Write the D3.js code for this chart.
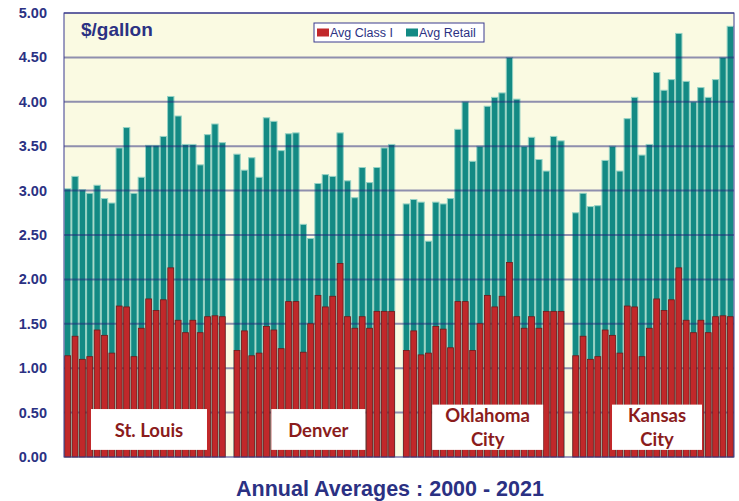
<!DOCTYPE html>
<html>
<head>
<meta charset="utf-8">
<script src="https://cdn.jsdelivr.net/npm/d3@7"></script>
<style>
  body { margin: 0; background: #fff; }
  svg { display: block; }
</style>
</head>
<body>
<svg width="739" height="501"></svg>
<script>
// cities and years
var cities = ["St. Louis", "Denver", "Oklahoma City", "Kansas City"];
var cityLabels = [["St. Louis"], ["Denver"], ["Oklahoma", "City"], ["Kansas", "City"]];
var years = [2000, 2001, 2002, 2003, 2004, 2005, 2006, 2007, 2008, 2009, 2010,
             2011, 2012, 2013, 2014, 2015, 2016, 2017, 2018, 2019, 2020, 2021];

// Avg Class I ($/gallon), one array per city
var classStLouis = [1.14, 1.36, 1.10, 1.13, 1.43, 1.37, 1.17, 1.70, 1.69, 1.13, 1.45,
                    1.78, 1.65, 1.77, 2.13, 1.54, 1.40, 1.54, 1.40, 1.58, 1.59, 1.58];
var classDenver = [1.20, 1.42, 1.14, 1.17, 1.47, 1.43, 1.22, 1.75, 1.75, 1.18, 1.50,
                   1.82, 1.69, 1.81, 2.18, 1.58, 1.45, 1.58, 1.45, 1.64, 1.64, 1.64];
var classOkc = [1.20, 1.42, 1.15, 1.17, 1.47, 1.44, 1.23, 1.75, 1.75, 1.20, 1.50,
                1.82, 1.69, 1.81, 2.19, 1.58, 1.45, 1.58, 1.45, 1.64, 1.64, 1.64];
var classKc = [1.14, 1.36, 1.10, 1.13, 1.43, 1.37, 1.17, 1.70, 1.69, 1.13, 1.45,
               1.78, 1.65, 1.77, 2.13, 1.54, 1.40, 1.54, 1.40, 1.58, 1.59, 1.58];

// Avg Retail ($/gallon)
var retailStLouis = [3.02, 3.16, 3.01, 2.97, 3.06, 2.91, 2.86, 3.48, 3.71, 2.97, 3.15,
                     3.51, 3.51, 3.61, 4.06, 3.84, 3.52, 3.52, 3.29, 3.63, 3.75, 3.54];
var retailDenver = [3.41, 3.23, 3.37, 3.15, 3.82, 3.78, 3.45, 3.64, 3.65, 2.62, 2.46,
                    3.08, 3.18, 3.16, 3.65, 3.11, 2.92, 3.26, 3.09, 3.26, 3.48, 3.52];
var retailOkc = [2.85, 2.90, 2.87, 2.43, 2.87, 2.85, 2.91, 3.69, 4.00, 3.33, 3.50,
                 3.95, 4.05, 4.10, 4.50, 4.03, 3.50, 3.60, 3.35, 3.22, 3.61, 3.56];
var retailKc = [2.75, 2.97, 2.82, 2.83, 3.34, 3.50, 3.22, 3.81, 4.05, 3.40, 3.52,
                4.33, 4.13, 4.25, 4.77, 4.23, 4.00, 4.16, 4.05, 4.25, 4.50, 4.85];

var yTicks = [0, 0.5, 1, 1.5, 2, 2.5, 3, 3.5, 4, 4.5, 5];
var seriesNames = ["Avg Class I", "Avg Retail"];

var classAll = [classStLouis, classDenver, classOkc, classKc];
var retailAll = [retailStLouis, retailDenver, retailOkc, retailKc];

var navy = "#2b3183";

var svg = d3.select("svg"),
    margin = {left: 64, right: 5, top: 13, bottom: 44},
    width = +svg.attr("width") - margin.left - margin.right,
    height = +svg.attr("height") - margin.top - margin.bottom;

// build rows, with an empty slot between cities
var rows = [], slots = [];
cities.forEach(function(c, ci) {
  if (ci > 0) slots.push("gap" + ci);
  years.forEach(function(yr, i) {
    var key = c + "-" + yr;
    slots.push(key);
    rows.push({key: key, city: ci, year: yr, cls: classAll[ci][i], retail: retailAll[ci][i]});
  });
});

var x = d3.scaleBand().domain(slots).range([0, width]).paddingInner(0);
var y = d3.scaleLinear().domain([0, 5]).range([height, 0]);

var g = svg.append("g").attr("transform", "translate(" + margin.left + "," + margin.top + ")");

g.append("rect")
  .attr("width", width).attr("height", height)
  .attr("fill", "#fafae2");

// retail bars (behind)
g.selectAll(".retail")
  .data(rows)
  .enter().append("rect")
    .attr("class", "retail")
    .attr("x", function(d) { return x(d.key) + 0.5; })
    .attr("width", x.bandwidth() - 1)
    .attr("y", function(d) { return y(d.retail); })
    .attr("height", function(d) { return height - y(d.retail); })
    .attr("fill", "#138a84")
    .attr("stroke", "#95d2c4")
    .attr("stroke-width", 1);

// grid lines
g.selectAll(".grid")
  .data(yTicks.slice(1))
  .enter().append("line")
    .attr("class", "grid")
    .attr("x1", 0).attr("x2", width)
    .attr("y1", function(d) { return y(d); })
    .attr("y2", function(d) { return y(d); })
    .attr("stroke", "#23237a")
    .attr("stroke-opacity", 0.5)
    .attr("stroke-width", 2);

// class I bars (front)
g.selectAll(".cls")
  .data(rows)
  .enter().append("rect")
    .attr("class", "cls")
    .attr("x", function(d) { return x(d.key) + 0.75; })
    .attr("width", x.bandwidth() - 1.5)
    .attr("y", function(d) { return y(d.cls); })
    .attr("height", function(d) { return height - y(d.cls); })
    .attr("fill", "#c1282a")
    .attr("stroke", "#741818")
    .attr("stroke-width", 0.8);

// plot border
g.append("rect")
  .attr("width", width).attr("height", height)
  .attr("fill", "none")
  .attr("stroke", "#3a3a8e")
  .attr("stroke-width", 1);

// y axis labels
g.selectAll(".ylab")
  .data(yTicks)
  .enter().append("text")
    .attr("x", -17)
    .attr("y", function(d) { return y(d) + 5; })
    .attr("text-anchor", "end")
    .attr("font-family", "Liberation Sans, Arial, sans-serif")
    .attr("font-weight", "bold")
    .attr("font-size", 14.5)
    .attr("fill", navy)
    .text(function(d) { return d3.format(".2f")(d); });

// unit
g.append("text")
  .attr("x", 17).attr("y", 22.5)
  .attr("font-family", "Liberation Sans, Arial, sans-serif")
  .attr("font-weight", "bold")
  .attr("font-size", 19)
  .attr("fill", navy)
  .text("$/gallon");

// legend
var legend = g.append("g").attr("transform", "translate(250,10)");
legend.append("rect")
  .attr("width", 170).attr("height", 19)
  .attr("fill", "#fff")
  .attr("stroke", "#3a3a8e").attr("stroke-width", 1);
var legX = [3, 92];
var legCol = ["#c1282a", "#138a84"];
seriesNames.forEach(function(s, i) {
  legend.append("rect")
    .attr("x", legX[i]).attr("y", 5.5)
    .attr("width", 12).attr("height", 8)
    .attr("fill", legCol[i]);
  legend.append("text")
    .attr("x", legX[i] + 13).attr("y", 14)
    .attr("font-family", "Liberation Sans, Arial, sans-serif")
    .attr("font-size", 12.5)
    .attr("fill", navy)
    .text(s);
});

// city label boxes
var boxW = [116, 94, 111, 90];
cities.forEach(function(c, ci) {
  var first = x(c + "-" + years[0]),
      last = x(c + "-" + years[years.length - 1]) + x.bandwidth(),
      cx = (first + last) / 2 + 4;
  var lines = cityLabels[ci];
  var top = lines.length > 1 ? y(0.59) : y(0.54);
  var box = g.append("g");
  box.append("rect")
    .attr("x", cx - boxW[ci] / 2).attr("y", top)
    .attr("width", boxW[ci]).attr("height", y(0.08) - top)
    .attr("fill", "#fff");
  lines.forEach(function(t, li) {
    box.append("text")
      .attr("x", cx)
      .attr("y", lines.length > 1 ? top + 17 + li * 24 : top + 28)
      .attr("text-anchor", "middle")
      .attr("font-family", "Lato, Open Sans, sans-serif")
      .attr("font-weight", "bold")
      .attr("font-size", 18.5)
      .attr("fill", "#8b1c1c")
      .text(t);
  });
});

// title
svg.append("text")
  .attr("x", 390).attr("y", 496)
  .attr("text-anchor", "middle")
  .attr("font-family", "Liberation Sans, Arial, sans-serif")
  .attr("font-weight", "bold")
  .attr("font-size", 21.5)
  .attr("fill", navy)
  .text("Annual Averages : 2000 - 2021");
</script>
</body>
</html>
